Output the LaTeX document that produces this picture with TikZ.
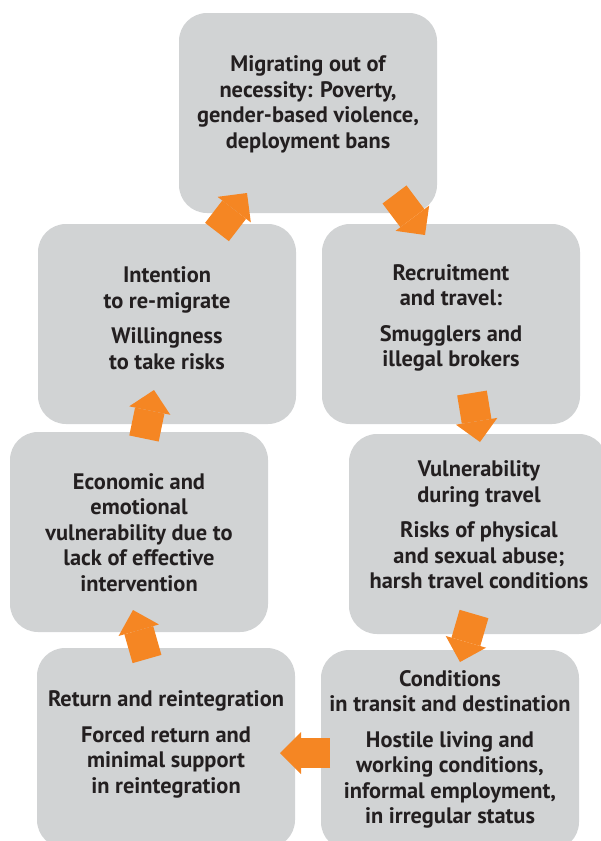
\documentclass[tikz,border=0pt]{standalone}
\usepackage{fontspec}
\setmainfont{PT Sans}
\usetikzlibrary{arrows.meta}
\definecolor{boxgray}{HTML}{D1D3D4}
\definecolor{flowor}{HTML}{F58623}
\definecolor{textdark}{HTML}{231F20}

\begin{document}
\begin{tikzpicture}[x=1pt,y=-1pt,
    cyclebox/.style={rectangle,rounded corners=28pt,fill=boxgray,minimum width=258pt,minimum height=200pt,inner sep=0pt},
    cycletext/.style={align=center,text=textdark,inner sep=0pt,font=\bfseries\fontsize{22.4}{25.5}\selectfont},
    flow/.style={draw=flowor,line width=30pt,-{Triangle[width=42pt,length=21pt,line width=0pt,fill=flowor]}}]
            \useasboundingbox (0,0) rectangle (601,841);
            \clip (0,0) rectangle (601,841);

            % boxes of the cycle
            \node[cyclebox] (migrate) at (308,113) {};
            \node[cyclebox] (recruit) at (451,324) {};
            \node[cyclebox] (travel) at (478,534) {};
            \node[cyclebox] (transit) at (450,750) {};
            \node[cyclebox] (return) at (166,748) {};
            \node[cyclebox] (econ) at (139,532) {};
            \node[cyclebox] (intent) at (167,324) {};

            \node[cycletext] (migratetxt) at (308,104.5) {Migrating out of\\necessity: Poverty,\\gender-based violence,\\deployment bans};
            \node[cycletext] (recruittxt) at (451,318) {Recruitment\\and travel:\\[10pt]Smugglers and\\illegal brokers};
            \node[cycletext] (traveltxt) at (479,525) {Vulnerability\\during travel\\[10pt]Risks of physical\\and sexual abuse;\\harsh travel conditions};
            \node[cycletext] (transittxt) at (450,749.5) {Conditions\\in transit and destination\\[10pt]Hostile living and\\working conditions,\\informal employment,\\in irregular status};
            \node[cycletext] (returntxt) at (166,744.5) {Return and reintegration\\[10pt]Forced return and\\minimal support\\in reintegration};
            \node[cycletext] (econtxt) at (139,532.5) {Economic and\\emotional\\vulnerability due to\\lack of effective\\intervention};
            \node[cycletext] (intenttxt) at (167,318) {Intention\\to re-migrate\\[10pt]Willingness\\to take risks};

            % arrows between the boxes
            \coordinate (f1a) at (394.5,194.5); \coordinate (f1b) at (425,235);
            \coordinate (f2a) at (472,393); \coordinate (f2b) at (480,442);
            \coordinate (f3a) at (474,614); \coordinate (f3b) at (460,662);
            \coordinate (f4a) at (330,753); \coordinate (f4b) at (280,753);
            \coordinate (f5a) at (147,659); \coordinate (f5b) at (133,610);
            \coordinate (f6a) at (144,438.5); \coordinate (f6b) at (154,390);
            \coordinate (f7a) at (217,232); \coordinate (f7b) at (247,193);
            \draw[flow] (f1a) -- (f1b); \draw[flow] (f2a) -- (f2b);
            \draw[flow] (f3a) -- (f3b); \draw[flow] (f4a) -- (f4b);
            \draw[flow] (f5a) -- (f5b); \draw[flow] (f6a) -- (f6b);
            \draw[flow] (f7a) -- (f7b);
        \end{tikzpicture}
\end{document}
